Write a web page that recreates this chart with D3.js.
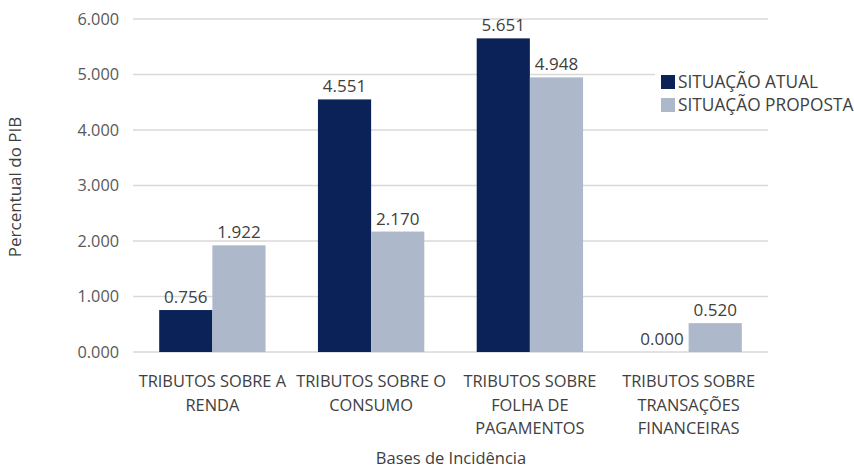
<!DOCTYPE html>
<html><head><meta charset="utf-8">
<script src="https://cdn.jsdelivr.net/npm/d3@7"></script>
<style>body{margin:0;background:#fff}svg{font-family:"Open Sans",sans-serif}</style>
</head><body><svg id="c" width="854" height="469"></svg>
<script>
const categories = [["TRIBUTOS SOBRE A","RENDA"],["TRIBUTOS SOBRE O","CONSUMO"],["TRIBUTOS SOBRE","FOLHA DE","PAGAMENTOS"],["TRIBUTOS SOBRE","TRANSAÇÕES","FINANCEIRAS"]];
const seriesNames = ["SITUAÇÃO ATUAL","SITUAÇÃO PROPOSTA"];
const atual = [0.756, 4.551, 5.651, 0.000];
const proposta = [1.922, 2.170, 4.948, 0.520];
const yTicks = [0,1,2,3,4,5,6];
const colors = ["#0b2259","#adb9cb"];

const svg = d3.select("#c");
const m = {l:133, r:768, t:19, b:352};
const x = d3.scaleBand().domain(d3.range(categories.length)).range([m.l,m.r]).paddingInner(0.33).paddingOuter(0.165);
const xs = d3.scaleBand().domain([0,1]).range([0,x.bandwidth()]);
const y = d3.scaleLinear().domain([0,6]).range([m.b,m.t]);

// gridlines
svg.append("g").selectAll("line").data(yTicks).join("line")
  .attr("x1",m.l).attr("x2",m.r).attr("y1",d=>y(d)).attr("y2",d=>y(d))
  .attr("stroke","#d9d9d9").attr("stroke-width",1.3);
// y tick labels
svg.append("g").selectAll("text").data(yTicks).join("text")
  .attr("x",119).attr("y",d=>y(d)).attr("dy","0.35em").attr("text-anchor","end")
  .attr("font-size",16.3).attr("fill","#595959").text(d=>d3.format(".3f")(d));

const data = [atual, proposta];
data.forEach((vals,si)=>{
  const g = svg.append("g");
  g.selectAll("rect").data(vals).join("rect")
    .attr("x",(d,i)=>x(i)+xs(si)).attr("width",xs.bandwidth())
    .attr("y",d=>y(d)).attr("height",d=>y(0)-y(d)).attr("fill",colors[si]);
  g.selectAll("text").data(vals).join("text")
    .attr("x",(d,i)=>x(i)+xs(si)+xs.bandwidth()/2).attr("y",d=>y(d)-7)
    .attr("text-anchor","middle").attr("font-size",17).attr("fill","#404040")
    .text(d=>d3.format(".3f")(d));
});

// category labels
const cg = svg.append("g").selectAll("text").data(categories).join("text")
  .attr("text-anchor","middle").attr("font-size",16.4).attr("fill","#404040");
cg.each(function(lines,i){
  d3.select(this).selectAll("tspan").data(lines).join("tspan")
    .attr("x",x(i)+x.bandwidth()/2).attr("y",(d,j)=>387+j*23.5).text(d=>d);
});

// axis titles
svg.append("text").attr("transform","translate(21,187) rotate(-90)").attr("text-anchor","middle")
  .attr("font-size",17).attr("fill","#404040").text("Percentual do PIB");
svg.append("text").attr("x",451).attr("y",464).attr("text-anchor","middle")
  .attr("font-size",16.5).attr("fill","#404040").text("Bases de Incidência");

// legend
const lg = svg.append("g");
lg.append("rect").attr("x",655).attr("y",70).attr("width",199).attr("height",48).attr("fill","#fff");
seriesNames.forEach((n,i)=>{
  lg.append("rect").attr("x",661).attr("y",75+i*23).attr("width",14).attr("height",14).attr("fill",colors[i]);
  lg.append("text").attr("x",678).attr("y",82+i*23).attr("dy","0.35em").attr("font-size",17.3).attr("fill","#404040").text(n);
});
</script></body></html>
